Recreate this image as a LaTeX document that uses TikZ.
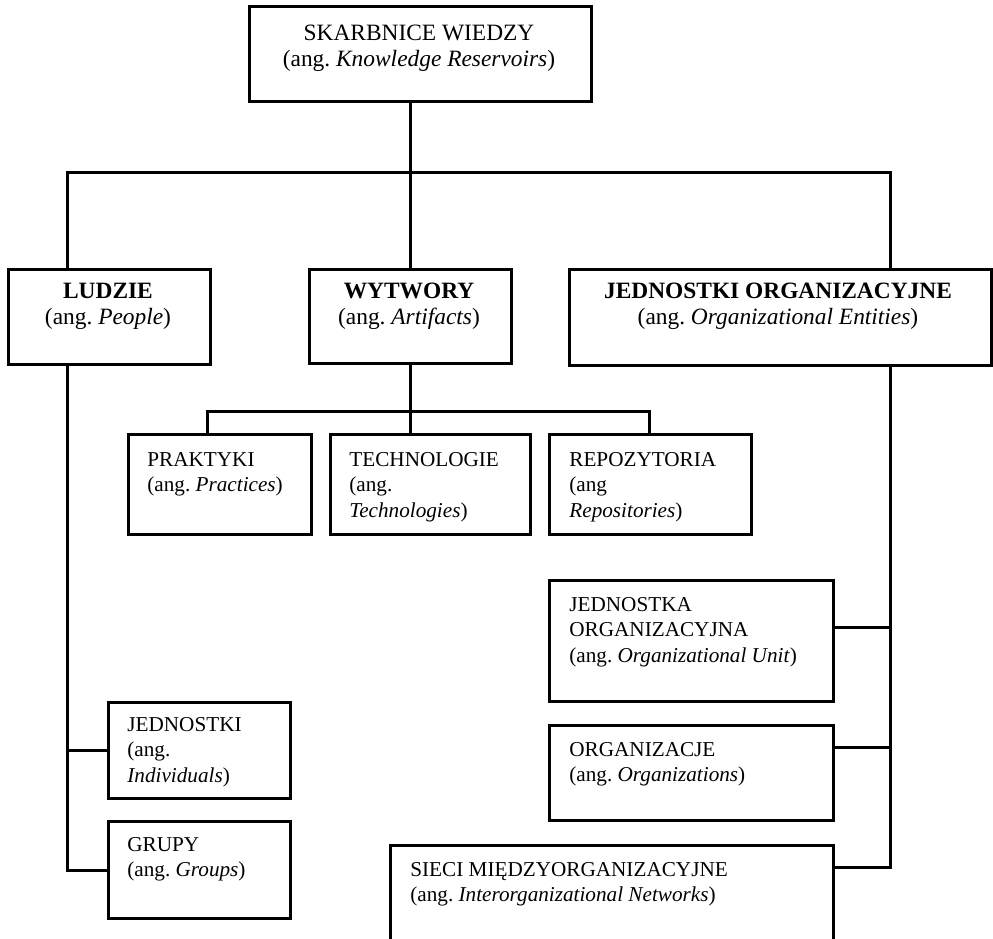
\documentclass[tikz,border=0pt]{standalone}
\usepackage{fontspec}
\setmainfont{Liberation Serif}
\usetikzlibrary{calc}
\frenchspacing
\newcommand{\mybox}[5]{\node[box, minimum width=#4*0.5pt, minimum height=#5*0.5pt] (#1) at (#2,#3) {};}
\begin{document}
\begin{tikzpicture}[x=0.5pt,y=-0.5pt,
  box/.style={draw, line width=1.5pt, rectangle, inner sep=0pt, anchor=north west},
  conn/.style={line width=1.5pt},
  bigtxt/.style={inner sep=0pt, anchor=north, align=center, font=\fontsize{11.7}{13}\selectfont},
  smalltxt/.style={inner sep=0pt, anchor=north west, align=left, font=\fontsize{10.6}{12.7}\selectfont}]
\useasboundingbox (0,0) rectangle (993,939);
% boxes
\mybox{top}{248}{5}{342}{95}
\mybox{lud}{7}{268}{202}{95}
\mybox{wyt}{308}{268}{202}{94}
\mybox{jo}{568}{268}{422}{96}
\mybox{pra}{127}{433}{183}{100}
\mybox{tec}{329}{433}{200}{100}
\mybox{rep}{548}{433}{202}{100}
\mybox{jou}{548}{579}{284}{121}
\mybox{org}{548}{724}{284}{95}
\mybox{sie}{389}{844}{443}{140}
\mybox{jed}{107}{701}{182}{96}
\mybox{gru}{107}{820}{182}{97}
% texts
\node[bigtxt] (ttop) at (419,25) {SKARBNICE WIEDZY\\(ang. \textit{Knowledge Reservoirs})};
\node[bigtxt] (tlud) at (108,283) {\textbf{LUDZIE}\\(ang. \textit{People})};
\node[bigtxt] (twyt) at (409,283) {\textbf{WYTWORY}\\(ang. \textit{Artifacts})};
\node[bigtxt] (tjo) at (778,283) {\textbf{JEDNOSTKI ORGANIZACYJNE}\\(ang. \textit{Organizational Entities})};
\node[smalltxt] (tpra) at (147,452) {PRAKTYKI\\(ang. \textit{Practices})};
\node[smalltxt] (ttec) at (349,452) {TECHNOLOGIE\\(ang.\\\textit{Technologies})};
\node[smalltxt] (trep) at (569,452) {REPOZYTORIA\\(ang\\\textit{Repositories})};
\node[smalltxt] (tjou) at (569,597) {JEDNOSTKA\\ORGANIZACYJNA\\(ang. \textit{Organizational Unit})};
\node[smalltxt] (torg) at (569,742) {ORGANIZACJE\\(ang. \textit{Organizations})};
\node[smalltxt] (tsie) at (410,862) {SIECI MIĘDZYORGANIZACYJNE\\(ang. \textit{Interorganizational Networks})};
\node[smalltxt] (tjed) at (127,717) {JEDNOSTKI\\(ang.\\\textit{Individuals})};
\node[smalltxt] (tgru) at (127,837) {GRUPY\\(ang. \textit{Groups})};
% connector points
\coordinate (busL) at (67,172);
\coordinate (busR) at (890,172);
\coordinate (sbus) at (410,411);
% top level
\draw[conn] (wyt.north -| sbus) -- (top.south -| sbus);
\draw[conn] (lud.north -| busL) -- (busL) -- (busR) -- (jo.north -| busR);
% artifacts branch
\draw[conn] (wyt.south -| sbus) -- (sbus);
\draw[conn] (pra.north -| 207,0) -- (sbus -| 207,0) -- (sbus -| 649,0) -- (rep.north -| 649,0);
\draw[conn] (sbus) -- (tec.north -| sbus);
% people branch
\draw[conn] (lud.south -| busL) -- (gru.west -| busL) -- (gru.west);
\draw[conn] (jed.west -| busL) -- (jed.west);
% organizational branch
\coordinate (cjou) at ($(jou.north east)+(0,48)$);
\coordinate (corg) at ($(org.north east)+(0,23)$);
\coordinate (csie) at ($(sie.north east)+(0,23)$);
\draw[conn] (jo.south -| busR) -- (csie -| busR) -- (csie);
\draw[conn] (cjou) -- (cjou -| busR);
\draw[conn] (corg) -- (corg -| busR);
\end{tikzpicture}
\end{document}
